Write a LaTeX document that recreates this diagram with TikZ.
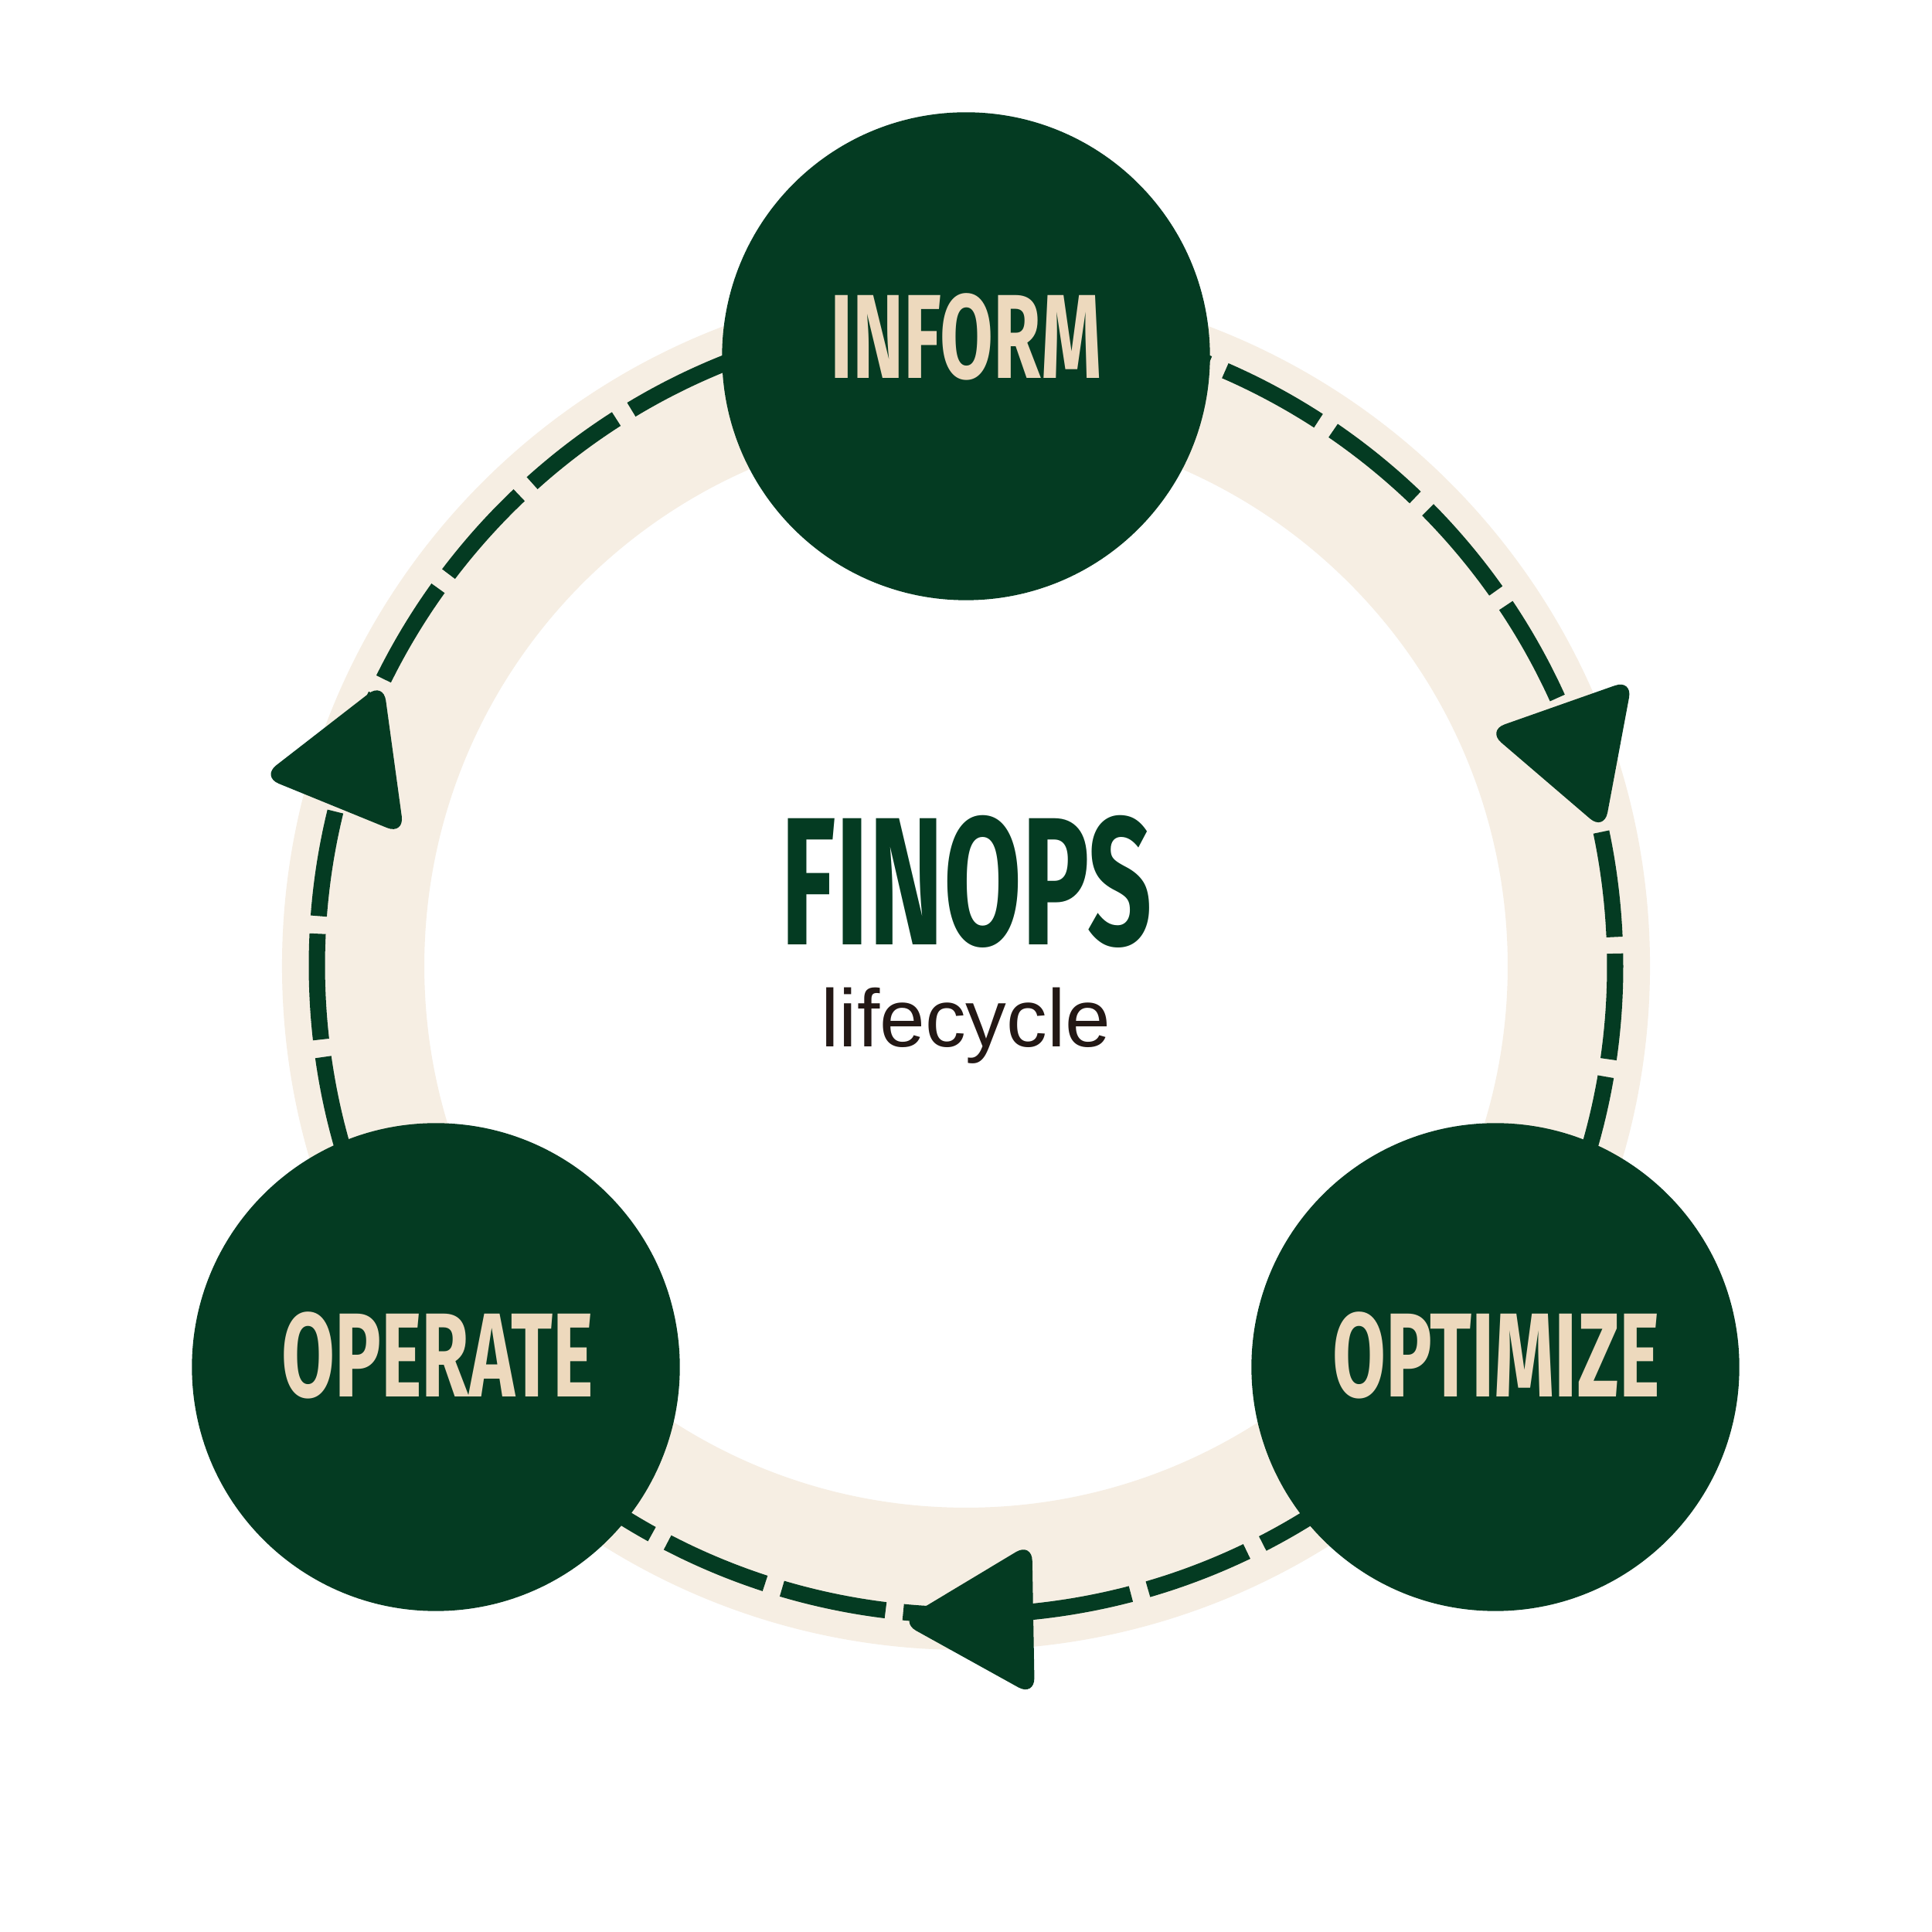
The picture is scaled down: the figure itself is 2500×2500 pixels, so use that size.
\documentclass[tikz,border=0pt]{standalone}
\usepackage{fontspec}
\setmainfont{Liberation Sans}
\newfontfamily\capsfont[FakeStretch=0.645]{Fira Sans}
\newfontfamily\titlefont[FakeStretch=0.62]{Fira Sans}
\usetikzlibrary{shapes.geometric}
\definecolor{finGreen}{HTML}{043B22}
\definecolor{finSand}{HTML}{F6EEE3}
\definecolor{finTan}{HTML}{EDD9BD}
\definecolor{finInk}{HTML}{231815}

\begin{document}
\begin{tikzpicture}[x=0.01cm,y=0.01cm,
  phase/.style={circle,fill=finGreen,minimum size=6.31cm,inner sep=0pt},
  phasetext/.style={anchor=base,inner sep=0pt,text=finTan,font=\capsfont\bfseries\fontsize{44}{44}\selectfont},
  arrowtri/.style={regular polygon,regular polygon sides=3,fill=finGreen,
    minimum size=2.3cm,inner sep=0pt,rounded corners=0.24cm},
  band/.style={draw=finSand,line width=1.84cm},
  loopline/.style={draw=finGreen,line width=0.21cm,dash pattern=on 1.37cm off 0.229cm}]

  \fill[white] (0,0) rectangle (2500,2500);
  \useasboundingbox (0,0) rectangle (2500,2500);
  \coordinate (c) at (1250,1250);

  % ring and dashed loop
  \draw[band] (c) circle[radius=793];
  \draw[loopline] ([shift={(2.56:840)}]c) arc[start angle=2.56,end angle=362.56,radius=840];

  % arrow heads on the loop
  \node[arrowtri,rotate=-160.6] (toOptimize) at ([shift={(19.8:837)}]c) {};
  \node[arrowtri,rotate=91] (toOperate) at ([shift={(-88:847)}]c) {};
  \node[arrowtri,rotate=-22.2] (toInform) at ([shift={(161.9:839)}]c) {};

  % phases
  \node[phase] (inform) at (1250,2039) {};
  \node[phase] (operate) at (564,731) {};
  \node[phase] (optimize) at (1935,731) {};
  \node[phasetext] (informText) at (1250,2010) {INFORM};
  \node[phasetext] (operateText) at (566,692) {OPERATE};
  \node[phasetext] (optimizeText) at (1936,692) {OPTIMIZE};

  % centre title
  \node[anchor=base,inner sep=0pt,text=finGreen,font=\titlefont\bfseries\fontsize{67}{67}\selectfont] (title) at (1251,1277) {FINOPS};
  \node[anchor=base,inner sep=0pt,text=finInk,font=\fontsize{30}{30}\selectfont] (subtitle) at (1250,1145) {lifecycle};
\end{tikzpicture}
\end{document}
